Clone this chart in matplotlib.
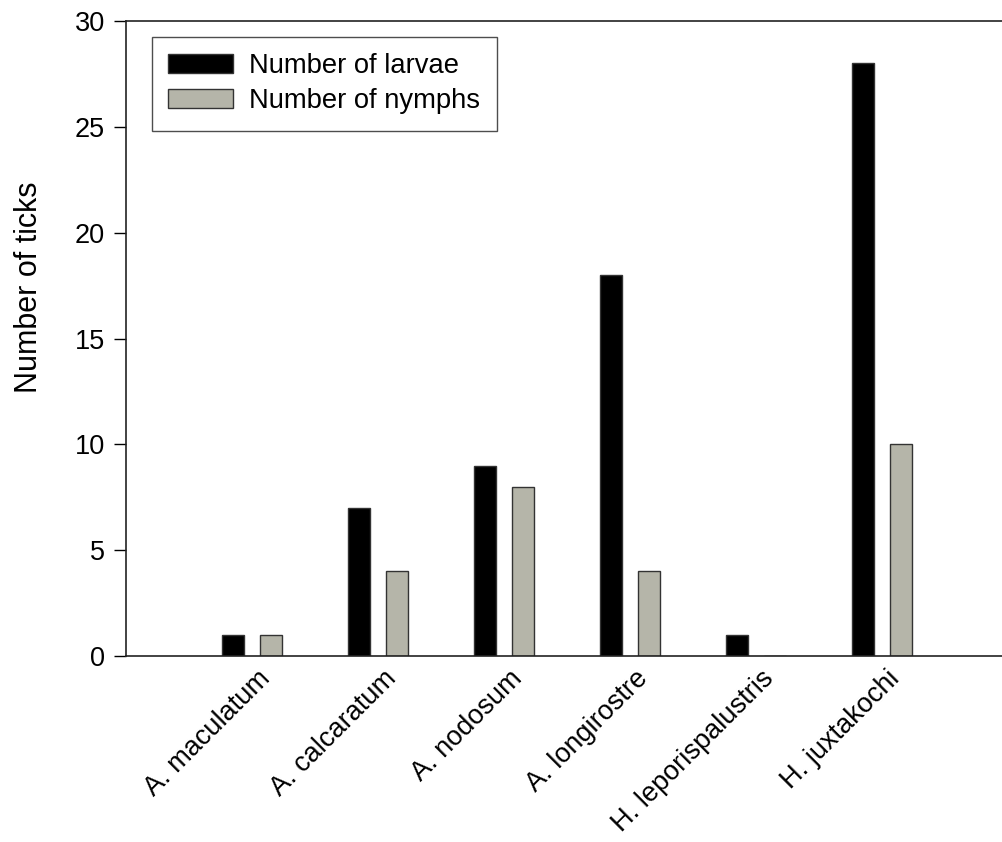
import matplotlib.pyplot as plt
import matplotlib
import numpy as np
from matplotlib.transforms import ScaledTranslation

matplotlib.rcParams['font.family'] = ['Liberation Sans', 'DejaVu Sans']

species = ['A. maculatum', 'A. calcaratum', 'A. nodosum', 'A. longirostre',
           'H. leporispalustris', 'H. juxtakochi']
larvae = [1, 7, 9, 18, 1, 28]
nymphs = [1, 4, 8, 4, 0, 10]


def main():
    fig = plt.figure(figsize=(10.02, 8.42), dpi=100)
    # axes spans a bit past the right edge, like the original
    ax = fig.add_axes([126 / 1002, 1 - 656 / 842, 882 / 1002, 635 / 842])

    x = np.arange(1, len(species) + 1)
    w = 0.18
    ax.bar(x - 0.15, larvae, w, color='black', edgecolor='#333333',
           linewidth=1, label='Number of larvae')
    ax.bar(x + 0.15, nymphs, w, color='#b5b5a9', edgecolor='#333333',
           linewidth=1, label='Number of nymphs')

    ax.set_xlim(0, 7)
    ax.set_ylim(0, 30)
    ax.set_yticks([0, 5, 10, 15, 20, 25, 30])
    ax.tick_params(axis='y', direction='out', length=9, width=1,
                   labelsize=19.5, pad=6)
    ax.set_xticks(x)
    ax.tick_params(axis='x', length=0, labelsize=19.5, pad=6)
    ax.set_xticklabels(species, rotation=45, ha='right', va='top',
                       rotation_mode='anchor')
    shift = ScaledTranslation(5 / 100, -1 / 100, fig.dpi_scale_trans)
    for lab in ax.get_xticklabels():
        lab.set_transform(lab.get_transform() + shift)

    ax.spines['right'].set_visible(False)
    for s in ['left', 'top', 'bottom']:
        ax.spines[s].set_linewidth(1.2)
        ax.spines[s].set_color('#222222')

    ax.set_ylabel('Number of ticks', fontsize=22)
    ax.yaxis.set_label_coords(-0.093, 0.58)

    leg = ax.legend(loc='upper left', bbox_to_anchor=(26 / 882, 1 - 16 / 635),
                    fontsize=19.7, frameon=True, fancybox=False,
                    handlelength=2.35, handleheight=0.7, handletextpad=0.6,
                    borderpad=0.6, labelspacing=0.33, borderaxespad=0)
    leg.get_frame().set_edgecolor('#222222')
    leg.get_frame().set_linewidth(1)

    plt.savefig('out.png', dpi=100, facecolor='white')


if __name__ == "__main__":
    main()
